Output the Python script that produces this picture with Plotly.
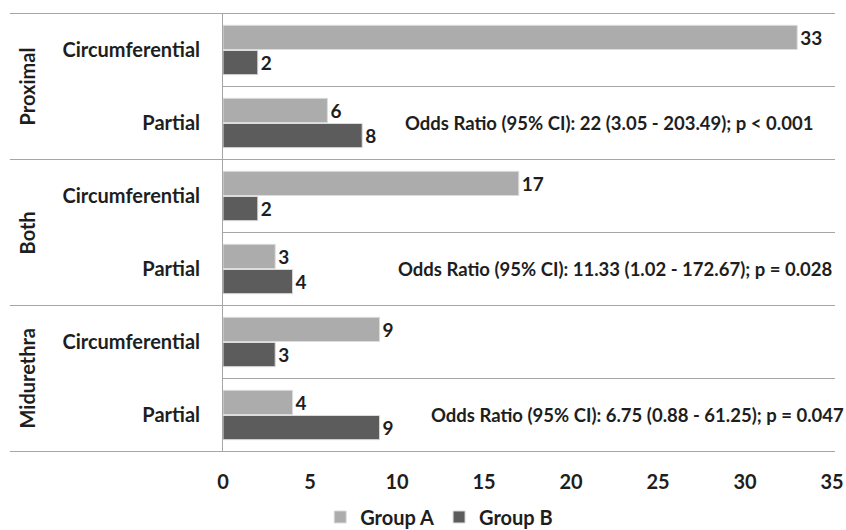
import plotly.graph_objects as go

groups = ["Proximal", "Proximal", "Both", "Both", "Midurethra", "Midurethra"]
types = ["Circumferential", "Partial", "Circumferential", "Partial", "Circumferential", "Partial"]
group_a = [33, 6, 17, 3, 9, 4]
group_b = [2, 8, 2, 4, 3, 9]
group_names = ["Proximal", "Both", "Midurethra"]
odds_text = [
    "Odds Ratio (95% CI): 22 (3.05 - 203.49); p < 0.001",
    "Odds Ratio (95% CI): 11.33 (1.02 - 172.67); p = 0.028",
    "Odds Ratio (95% CI): 6.75 (0.88 - 61.25); p = 0.047",
]
odds_x = [10.35, 9.95, 11.85]
x_ticks = [0, 5, 10, 15, 20, 25, 30, 35]

keys = [f"{g}|{t}" for g, t in zip(groups, types)]

FONT = "Lato"
TXT = "#1e1e1e"
FS = 20

fig = go.Figure()
fig.add_trace(go.Bar(
    name="Group A", y=keys, x=group_a, orientation="h",
    marker=dict(color="#acacac", line=dict(color="#dcdcdc", width=1)),
    text=[str(v) for v in group_a], textposition="outside",
    textfont=dict(family=FONT, size=19, color=TXT), cliponaxis=False,
))
fig.add_trace(go.Bar(
    name="Group B", y=keys, x=group_b, orientation="h",
    marker=dict(color="#5c5c5c", line=dict(color="#dcdcdc", width=1)),
    text=[str(v) for v in group_b], textposition="outside",
    textfont=dict(family=FONT, size=19, color=TXT), cliponaxis=False,
))

line_col = "#a6a6a6"
shapes = []
for b in [-0.5, 1.5, 3.5, 5.5]:
    shapes.append(dict(type="line", xref="paper", yref="y", x0=-0.35, x1=1.005,
                       y0=b, y1=b, line=dict(color=line_col, width=1)))
for b in [0.5, 2.5, 4.5]:
    shapes.append(dict(type="line", xref="paper", yref="y", x0=0, x1=1.005,
                       y0=b, y1=b, line=dict(color=line_col, width=1)))

annotations = []
for i, g in enumerate(group_names):
    annotations.append(dict(text=g, xref="paper", yref="y", x=-0.322, y=2 * i + 0.5,
                            xanchor="center", yanchor="middle",
                            textangle=-90, showarrow=False,
                            font=dict(family=FONT, size=FS, color=TXT)))
    annotations.append(dict(text=odds_text[i], xref="x", yref="y", x=odds_x[i],
                            y=2 * i + 1, xanchor="left", showarrow=False,
                            font=dict(family=FONT, size=18.5, color=TXT)))

fig.update_layout(
    width=846, height=530,
    margin=dict(l=223, r=14, t=13, b=78, autoexpand=False),
    paper_bgcolor="white", plot_bgcolor="white",
    barmode="group", bargap=0.31, bargroupgap=0.04,
    font=dict(family=FONT, size=FS, color=TXT),
    showlegend=True,
    legend=dict(orientation="h", x=0.355, xanchor="center", y=-0.148, yanchor="middle",
                font=dict(family=FONT, size=FS, color=TXT, weight="bold"),
                traceorder="normal"),
    shapes=shapes, annotations=annotations,
)
fig.update_xaxes(range=[0, 35], tickvals=x_ticks, showgrid=False, zeroline=False,
                 showline=False, ticks="outside", ticklen=12, tickcolor="rgba(0,0,0,0)",
                 automargin=False,
                 tickfont=dict(family=FONT, size=FS, color=TXT, weight="bold"))
fig.update_yaxes(type="category", categoryorder="array", categoryarray=keys,
                 autorange="reversed", tickvals=keys, ticktext=types,
                 showgrid=False, showline=True, linecolor=line_col, linewidth=1,
                 ticks="outside", ticklen=18, tickcolor="rgba(0,0,0,0)",
                 automargin=False,
                 tickfont=dict(family=FONT, size=FS, color=TXT, weight="bold"))
fig.update_annotations(font_weight="bold")
fig.update_traces(textfont_weight="bold")

fig.write_html("out.html", config={"displayModeBar": False},
               post_script="document.body.style.margin='0';document.body.style.overflow='hidden';")
